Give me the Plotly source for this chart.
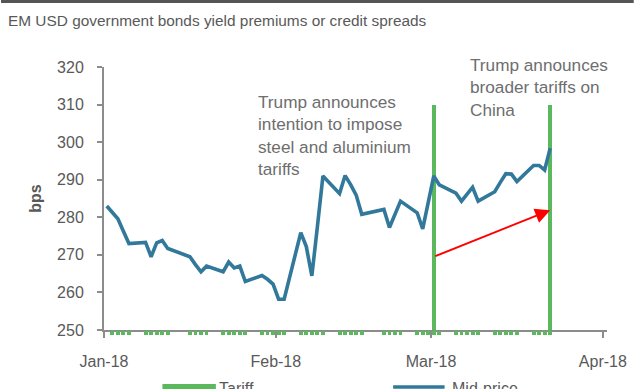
import pandas as pd
import plotly.graph_objects as go

# ---------------- data ----------------
dates = [
    "2018-01-01", "2018-01-02", "2018-01-03", "2018-01-04", "2018-01-05",
    "2018-01-08", "2018-01-09", "2018-01-10", "2018-01-11", "2018-01-12",
    "2018-01-16", "2018-01-17", "2018-01-18", "2018-01-19",
    "2018-01-22", "2018-01-23", "2018-01-24", "2018-01-25", "2018-01-26",
    "2018-01-29", "2018-01-30", "2018-01-31", "2018-02-01", "2018-02-02",
    "2018-02-05", "2018-02-06", "2018-02-07", "2018-02-08", "2018-02-09",
    "2018-02-12", "2018-02-13", "2018-02-14", "2018-02-15", "2018-02-16",
    "2018-02-20", "2018-02-21", "2018-02-22", "2018-02-23",
    "2018-02-26", "2018-02-27", "2018-02-28", "2018-03-01", "2018-03-02",
    "2018-03-05", "2018-03-06", "2018-03-07", "2018-03-08", "2018-03-09",
    "2018-03-12", "2018-03-13", "2018-03-14", "2018-03-15", "2018-03-16",
    "2018-03-19", "2018-03-20", "2018-03-21", "2018-03-22",
]
mid_price = [
    283.0, 281.3, 279.6, 276.3, 273.0,
    273.3, 269.5, 273.2, 273.8, 271.7,
    269.5, 267.4, 265.5, 267.0,
    265.5, 268.1, 266.5, 267.0, 262.9,
    264.5, 263.5, 262.2, 258.2, 258.2,
    275.9, 272.2, 264.4, 277.5, 291.0,
    286.3, 291.1, 288.7, 285.9, 280.8,
    282.1, 277.3, 281.0, 284.3,
    281.2, 276.9, 284.0, 291.0, 288.6,
    286.4, 284.3, 286.1, 288.0, 284.3,
    286.8, 289.3, 291.6, 291.5, 289.5,
    293.8, 293.8, 292.6, 298.4,
]
# tariff series: small daily markers (trading days) + two announcement days
tariff_day_dates = dates[1:]
tariff_day_marks = [1] * len(tariff_day_dates)
tariff_event_dates = ["2018-03-01", "2018-03-22"]
tariff_event_level = [310, 310]

arrow_from = ("2018-03-01", 269.5)
arrow_to = ("2018-03-22", 281.9)

title_text = "EM USD government bonds yield premiums or credit spreads"
note_1 = "Trump announces<br>intention to impose<br>steel and aluminium<br>tariffs"
note_2 = "Trump announces<br>broader tariffs on<br>China"

# ---------------- styling / layout helpers ----------------
W, H = 639, 389
L, R, T, B = 104, 612, 67, 335          # plot area in pixels
Y0_PX = 330                              # pixel of y=250 (x-axis line)
FONT = "Liberation Sans"
GREEN = "#5cb85c"
BLUE = "#31789a"
GREY_TXT = "#595959"
NOTE_TXT = "#6e6e6e"
GREY_AX = "#8c8c8c"

def px_x(px):
    return (px - L) / (R - L)

def px_y(py):
    return (B - py) / (B - T)

half_day = pd.Timedelta(hours=12)
def centre(ds):
    return [pd.Timestamp(d) + half_day for d in ds]

ydom0 = (B - Y0_PX) / (B - T)

fig = go.Figure()

# small daily tariff markers beneath the axis
fig.add_trace(go.Bar(
    x=centre(tariff_day_dates), y=tariff_day_marks, yaxis="y2",
    width=0.7 * 86400000, marker=dict(color=GREEN, line_width=0),
    showlegend=False, hoverinfo="skip",
))
# announcement bars
fig.add_trace(go.Bar(
    x=centre(tariff_event_dates), y=[v - 250 for v in tariff_event_level], base=250,
    width=0.62 * 86400000, marker=dict(color=GREEN, line_width=0),
    name="Tariff", showlegend=False,
))
# mid price line
fig.add_trace(go.Scatter(
    x=centre(dates), y=mid_price, mode="lines",
    line=dict(color=BLUE, width=3.6), name="Mid-price", showlegend=False,
))

annotations = [
    dict(x=px_x(258), y=px_y(90), xref="paper", yref="paper", xanchor="left",
         yanchor="top", align="left", showarrow=False, text=note_1,
         font=dict(family=FONT, size=17.2, color=NOTE_TXT)),
    dict(x=px_x(472), y=px_y(53), xref="paper", yref="paper", xanchor="left",
         yanchor="top", align="left", showarrow=False, text=note_2,
         font=dict(family=FONT, size=17.2, color=NOTE_TXT)),
    dict(x=centre([arrow_to[0]])[0], y=arrow_to[1], ax=centre([arrow_from[0]])[0],
         ay=arrow_from[1], xref="x", yref="y", axref="x", ayref="y",
         showarrow=True, arrowhead=2, arrowsize=1.5, arrowwidth=2,
         arrowcolor="#ff0000", text=""),
    # legend
    dict(x=px_x(218), y=px_y(378), xref="paper", yref="paper", xanchor="left",
         yanchor="top", showarrow=False, text="Tariff",
         font=dict(family=FONT, size=16, color=GREY_TXT)),
    dict(x=px_x(453), y=px_y(378), xref="paper", yref="paper", xanchor="left",
         yanchor="top", showarrow=False, text="Mid-price",
         font=dict(family=FONT, size=16, color=GREY_TXT)),
]

shapes = [
    dict(type="rect", xref="paper", yref="paper", x0=px_x(0), x1=px_x(W),
         y0=px_y(0), y1=px_y(3), fillcolor="#555555", line_width=0),
    dict(type="rect", xref="paper", yref="paper", x0=px_x(163), x1=px_x(217),
         y0=px_y(384), y1=px_y(396), fillcolor=GREEN, line_width=0),
    dict(type="line", xref="paper", yref="paper", x0=px_x(396), x1=px_x(448),
         y0=px_y(387), y1=px_y(387), line=dict(color=BLUE, width=3.5)),
]

fig.update_layout(
    width=W, height=H,
    margin=dict(l=L, r=W - R, t=T, b=H - B, pad=0),
    paper_bgcolor="white", plot_bgcolor="white",
    font=dict(family=FONT, size=16, color=GREY_TXT),
    title=dict(text=title_text, x=8 / W, xanchor="left", xref="container",
               y=1 - 21 / H, yanchor="middle", yref="container",
               font=dict(family=FONT, size=15.4, color=GREY_TXT)),
    bargap=0,
    barmode="overlay",
    xaxis=dict(
        type="date", range=[pd.Timestamp("2018-01-01"), pd.Timestamp("2018-04-01 18:00")],
        tick0="2018-01-01", dtick="M1", tickformat="%b-%y",
        ticks="outside", ticklen=6, tickwidth=2, tickcolor=GREY_AX,
        showline=True, linecolor=GREY_AX, linewidth=2, showgrid=False,
        zeroline=False, anchor="y", ticklabelstandoff=10,
        tickfont=dict(family=FONT, size=16, color=GREY_TXT),
    ),
    yaxis=dict(
        domain=[ydom0, 1], range=[250, 320], dtick=10, tick0=250,
        ticks="outside", ticklen=5, tickwidth=2, tickcolor=GREY_AX,
        showline=True, linecolor=GREY_AX, linewidth=2, showgrid=False,
        zeroline=False, ticklabelstandoff=10,
        tickfont=dict(family=FONT, size=16, color=GREY_TXT),
        title=dict(text="bps", standoff=11,
                   font=dict(family=FONT, size=16, color=GREY_TXT, weight="bold")),
    ),
    yaxis2=dict(domain=[0, ydom0], range=[0, 1.25], visible=False,
                anchor="x", fixedrange=True),
    annotations=annotations,
    shapes=shapes,
)

fig.write_html("out.html")
